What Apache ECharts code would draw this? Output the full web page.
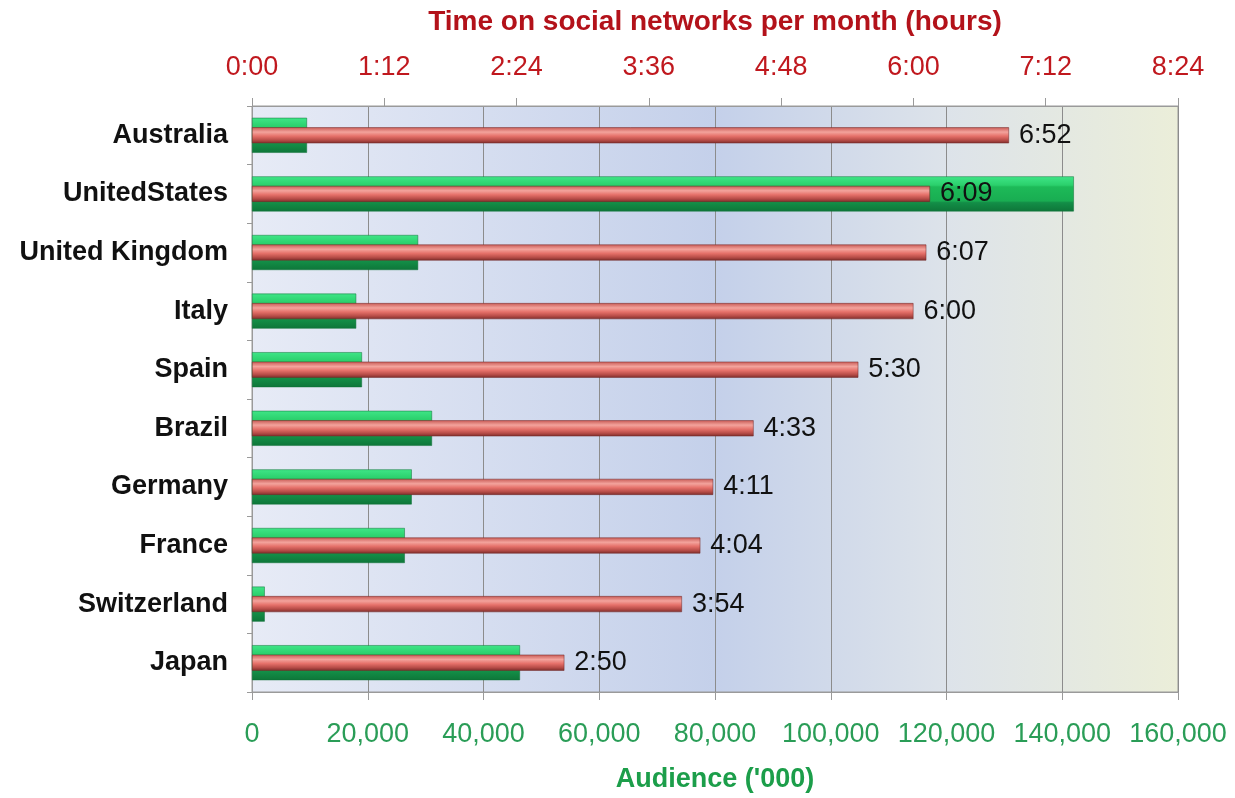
<!DOCTYPE html>
<html>
<head>
<meta charset="utf-8">
<script src="https://cdn.jsdelivr.net/npm/echarts@6/dist/echarts.min.js"></script>
<style>html,body{margin:0;padding:0;background:#fff}#c{width:1235px;height:798px}</style>
</head>
<body>
<div id="c"></div>
<script>
var countries = ['Australia','UnitedStates','United Kingdom','Italy','Spain','Brazil','Germany','France','Switzerland','Japan'];
var audience = [9500, 142000, 28700, 18000, 19000, 31100, 27600, 26400, 2200, 46300];
var minutesPerMonth = [412, 369, 367, 360, 330, 273, 251, 244, 234, 170];
var audienceTicks = [0, 20000, 40000, 60000, 80000, 100000, 120000, 140000, 160000];
var timeTicksMinutes = [0, 72, 144, 216, 288, 360, 432, 504];

function hm(m){ var h=Math.floor(m/60), mm=Math.round(m-h*60); return h+':'+(mm<10?'0':'')+mm; }
function commas(v){ return String(v).replace(/\B(?=(\d{3})+(?!\d))/g, ','); }

var chart = echarts.init(document.getElementById('c'));
var font = 'Liberation Sans, Arial, sans-serif';
chart.setOption({
  animation:false,
  grid:{left:252,right:57,top:106,bottom:105,show:true,borderColor:'#9a9a9a',borderWidth:1,
    backgroundColor:new echarts.graphic.LinearGradient(0,0,1,0,[
      {offset:0,color:'#e7ebf6'},{offset:0.5,color:'#c4d0ea'},{offset:0.75,color:'#dde3ea'},{offset:1,color:'#ebeed9'}])},
  xAxis:[{
    type:'value',position:'bottom',min:audienceTicks[0],max:audienceTicks[audienceTicks.length-1],interval:20000,
    name:"Audience ('000)",nameLocation:'middle',nameGap:74,
    nameTextStyle:{color:'#1c9e4a',fontSize:27,fontWeight:'bold',fontFamily:font},
    axisLine:{show:true,lineStyle:{color:'#9a9a9a'}},
    axisTick:{show:true,length:8,lineStyle:{color:'#9a9a9a'}},
    axisLabel:{margin:29,color:'#2a9d57',fontSize:27,fontFamily:font,formatter:function(v){return commas(v);}},
    splitLine:{show:true,lineStyle:{color:'#8c8c8c',width:1}}
  },{
    type:'value',position:'top',min:timeTicksMinutes[0],max:timeTicksMinutes[timeTicksMinutes.length-1],interval:72,
    name:'Time on social networks per month (hours)',nameLocation:'middle',nameGap:70,
    nameTextStyle:{color:'#b3121a',fontSize:28,fontWeight:'bold',fontFamily:font},
    axisLine:{show:true,lineStyle:{color:'#9a9a9a'}},
    axisTick:{show:true,length:8,lineStyle:{color:'#9a9a9a'}},
    axisLabel:{margin:25,color:'#c0181e',fontSize:27,fontFamily:font,formatter:function(v){return hm(v);}},
    splitLine:{show:false}
  }],
  yAxis:[{
    type:'category',data:countries,inverse:true,
    axisLine:{show:true,lineStyle:{color:'#9a9a9a'}},
    axisTick:{show:true,length:5,lineStyle:{color:'#9a9a9a'}},
    axisLabel:{margin:24,color:'#111',fontSize:27,fontWeight:'bold',fontFamily:font}
  },{
    type:'category',data:countries,inverse:true,show:false
  }],
  series:[{
    type:'bar',xAxisIndex:0,yAxisIndex:0,data:audience,barWidth:35,
    itemStyle:{color:new echarts.graphic.LinearGradient(0,0,0,1,[
      {offset:0,color:'#3fe587'},{offset:0.25,color:'#2bd06c'},{offset:0.3,color:'#1dba58'},
      {offset:0.7,color:'#19ad52'},{offset:0.75,color:'#138e47'},{offset:1,color:'#0e7639'}]),
      borderColor:'#0e7036',borderWidth:0.5}
  },{
    type:'bar',xAxisIndex:1,yAxisIndex:1,data:minutesPerMonth,barWidth:16,
    itemStyle:{color:new echarts.graphic.LinearGradient(0,0,0,1,[
      {offset:0,color:'#c85a55'},{offset:0.3,color:'#f3a39c'},{offset:0.55,color:'#e6716a'},
      {offset:0.8,color:'#b84d48'},{offset:1,color:'#7e2d2b'}]),
      borderColor:'#6e2626',borderWidth:0.5},
    label:{show:true,position:'right',distance:10,color:'#111',fontSize:27,fontFamily:font,
      formatter:function(p){return hm(p.value);}}
  }]
});
</script>
</body>
</html>
